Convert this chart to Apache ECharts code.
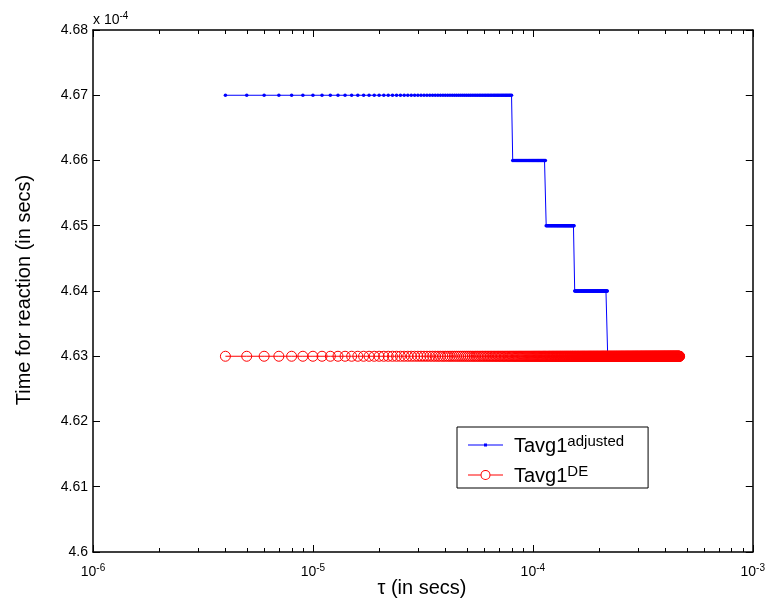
<!DOCTYPE html>
<html>
<head>
<meta charset="utf-8">
<title>Tavg1 vs tau</title>
<script src="https://cdn.jsdelivr.net/npm/echarts@6/dist/echarts.min.js"></script>
<style>
  html, body { margin: 0; padding: 0; background: #fff; }
  #chart { width: 768px; height: 601px; }
</style>
</head>
<body>
<div id="chart"></div>
<script>
// Sample grid of tau values, in microseconds
const tauMicro = [
  4,5,6,7,8,9,10,11,12,13,14,15,16,17,18,19,20,21,22,23,
  24,25,26,27,28,29,30,31,32,33,34,35,36,37,38,39,40,41,42,43,
  44,45,46,47,48,49,50,51,52,53,54,55,56,57,58,59,60,61,62,63,
  64,65,66,67,68,69,70,71,72,73,74,75,76,77,78,79,80,81,82,83,
  84,85,86,87,88,89,90,91,92,93,94,95,96,97,98,99,100,101,102,103,
  104,105,106,107,108,109,110,111,112,113,114,115,116,117,118,119,120,121,122,123,
  124,125,126,127,128,129,130,131,132,133,134,135,136,137,138,139,140,141,142,143,
  144,145,146,147,148,149,150,151,152,153,154,155,156,157,158,159,160,161,162,163,
  164,165,166,167,168,169,170,171,172,173,174,175,176,177,178,179,180,181,182,183,
  184,185,186,187,188,189,190,191,192,193,194,195,196,197,198,199,200,201,202,203,
  204,205,206,207,208,209,210,211,212,213,214,215,216,217,218,219,220,221,222,223,
  224,225,226,227,228,229,230,231,232,233,234,235,236,237,238,239,240,241,242,243,
  244,245,246,247,248,249,250,251,252,253,254,255,256,257,258,259,260,261,262,263,
  264,265,266,267,268,269,270,271,272,273,274,275,276,277,278,279,280,281,282,283,
  284,285,286,287,288,289,290,291,292,293,294,295,296,297,298,299,300,301,302,303,
  304,305,306,307,308,309,310,311,312,313,314,315,316,317,318,319,320,321,322,323,
  324,325,326,327,328,329,330,331,332,333,334,335,336,337,338,339,340,341,342,343,
  344,345,346,347,348,349,350,351,352,353,354,355,356,357,358,359,360,361,362,363,
  364,365,366,367,368,369,370,371,372,373,374,375,376,377,378,379,380,381,382,383,
  384,385,386,387,388,389,390,391,392,393,394,395,396,397,398,399,400,401,402,403,
  404,405,406,407,408,409,410,411,412,413,414,415,416,417,418,419,420,421,422,423,
  424,425,426,427,428,429,430,431,432,433,434,435,436,437,438,439,440,441,442,443,
  444,445,446,447,448,449,450,451,452,453,454,455,456,457,458,459,460,461,462,463,
  464,465
];

// Tavg1 adjusted: step levels (x 1e-4 s) and the tau (us) where each level begins
const adjustedStepStart = [4, 81, 115, 155, 219];
const adjustedLevels = [4.67, 4.66, 4.65, 4.64, 4.63];

// Tavg1 DE: constant level (x 1e-4 s)
const deLevel = 4.63;

// Axis settings
const yTicks = [4.6, 4.61, 4.62, 4.63, 4.64, 4.65, 4.66, 4.67, 4.68];
const xDecades = [1e-6, 1e-5, 1e-4];
const minorMultiples = [2, 3, 4, 5, 6, 7, 8, 9];

// Legend text: base name and superscript
const seriesBase = ['Tavg1', 'Tavg1'];
const seriesSup = ['adjusted', 'DE'];
const seriesNames = ['Tavg1^adjusted', 'Tavg1^DE'];

const FONT = '"Liberation Sans", Arial, Helvetica, sans-serif';
const BLUE = '#0000ff', RED = '#ff0000';
const yMin = yTicks[0], yMax = yTicks[yTicks.length - 1];
const xMin = 1e-6, xMax = 1e-3;

// Legend glyphs: a line with a small dot, and a line through an open ring
const dotLineIcon = 'path://M0,4.5L35,4.5L35,5.5L0,5.5Z M16,3.5L19,3.5L19,6.5L16,6.5Z';
const ringLineIcon = 'path://M0,4.5L12.6,4.5L12.6,5.5L0,5.5Z M22.4,4.5L35,4.5L35,5.5L22.4,5.5Z '
  + 'M17.5,0A5,5 0 1 1 17.5,10A5,5 0 1 1 17.5,0Z '
  + 'M17.5,1A4,4 0 1 0 17.5,9A4,4 0 1 0 17.5,1Z';

function adjustedAt(t) {
  let level = adjustedLevels[0];
  for (let i = 0; i < adjustedStepStart.length; i++) {
    if (t >= adjustedStepStart[i]) level = adjustedLevels[i];
  }
  return level;
}

const adjustedData = tauMicro.map(t => [t * 1e-6, adjustedAt(t)]);
const deData = tauMicro.map(t => [t * 1e-6, deLevel]);

const minorTicks = [];
xDecades.forEach(d => minorMultiples.forEach(m => minorTicks.push([d * m, yMin])));

const chart = echarts.init(document.getElementById('chart'), null, { renderer: 'canvas' });

const axisLine = { show: true, lineStyle: { color: '#000', width: 1.5 } };
const majorTick = { show: true, inside: true, length: 7, lineStyle: { color: '#000' } };

const option = {
  animation: false,
  backgroundColor: '#fff',
  textStyle: { fontFamily: FONT },
  grid: { left: 93, right: 13, top: 30, bottom: 49, containLabel: false },
  xAxis: [
    {
      type: 'log', logBase: 10, min: xMin, max: xMax, position: 'bottom',
      axisLine: axisLine, axisTick: majorTick,
      splitLine: { show: false },
      axisLabel: {
        margin: 11,
        formatter: v => '{b|10}{s|' + Math.round(Math.log10(v)) + '}',
        rich: {
          b: { fontFamily: FONT, fontSize: 14, color: '#000', lineHeight: 16, padding: [7, 0, 0, 0], verticalAlign: 'bottom' },
          s: { fontFamily: FONT, fontSize: 10, color: '#000', lineHeight: 12, verticalAlign: 'top' }
        }
      }
    },
    {
      type: 'log', logBase: 10, min: xMin, max: xMax, position: 'top',
      axisLine: axisLine, axisTick: majorTick,
      axisLabel: { show: false },
      splitLine: { show: false }
    }
  ],
  yAxis: [
    {
      type: 'value', min: yMin, max: yMax, interval: 0.01, position: 'left',
      axisLine: axisLine, axisTick: majorTick,
      splitLine: { show: false },
      axisLabel: {
        margin: 5, color: '#000', fontSize: 14, fontFamily: FONT,
        formatter: v => String(parseFloat(v.toFixed(2)))
      }
    },
    {
      type: 'value', min: yMin, max: yMax, interval: 0.01, position: 'right',
      axisLine: axisLine, axisTick: majorTick,
      axisLabel: { show: false },
      splitLine: { show: false }
    }
  ],
  legend: {
    data: [
      { name: seriesNames[0], icon: dotLineIcon, itemStyle: { color: BLUE, borderWidth: 0, borderColor: 'transparent' } },
      { name: seriesNames[1], icon: ringLineIcon, itemStyle: { color: RED, borderWidth: 0, borderColor: 'transparent' } }
    ],
    orient: 'vertical',
    left: 457, top: 427,
    padding: [3, 24, 2, 11],
    itemGap: 4,
    itemWidth: 35, itemHeight: 10,
    symbolKeepAspect: true,
    backgroundColor: '#fff',
    borderColor: '#000', borderWidth: 1,
    borderRadius: 0,
    selectedMode: false,
    formatter: name => {
      const i = seriesNames.indexOf(name);
      return '{b|' + seriesBase[i] + '}{s|' + seriesSup[i] + '}';
    },
    textStyle: {
      rich: {
        b: { fontFamily: FONT, fontSize: 20, color: '#000', lineHeight: 22, padding: [6, 0, 0, 6], verticalAlign: 'bottom' },
        s: { fontFamily: FONT, fontSize: 15, color: '#000', lineHeight: 16, verticalAlign: 'top' }
      }
    }
  },
  graphic: [
    {
      type: 'text', left: 93, top: 10, silent: true,
      style: {
        text: '{b|x 10}{s|-4}',
        rich: {
          b: { fontFamily: FONT, fontSize: 14, fill: '#000', lineHeight: 16, padding: [3, 0, 0, 0], verticalAlign: 'bottom' },
          s: { fontFamily: FONT, fontSize: 10, fill: '#000', lineHeight: 12, verticalAlign: 'top' }
        }
      }
    },
    {
      type: 'text', x: 24, y: 290, rotation: Math.PI / 2, silent: true,
      style: {
        text: 'Time for reaction (in secs)', font: '20px ' + FONT, fill: '#000',
        align: 'center', verticalAlign: 'middle'
      }
    },
    {
      type: 'text', x: 422, y: 588, silent: true,
      style: {
        text: 'τ (in secs)', font: '20px ' + FONT, fill: '#000',
        align: 'center', verticalAlign: 'middle'
      }
    }
  ],
  series: [
    {
      name: seriesNames[0], type: 'line', data: adjustedData,
      xAxisIndex: 0, yAxisIndex: 0,
      symbol: 'circle', symbolSize: 3.5, showSymbol: true, showAllSymbol: true,
      lineStyle: { color: BLUE, width: 1 },
      itemStyle: { color: BLUE },
      emphasis: { disabled: true }, z: 2
    },
    {
      name: seriesNames[1], type: 'line', data: deData,
      xAxisIndex: 0, yAxisIndex: 0,
      symbol: 'circle', symbolSize: 10, showSymbol: true, showAllSymbol: true,
      lineStyle: { color: RED, width: 1 },
      itemStyle: { color: 'rgba(255,255,255,0)', borderColor: RED, borderWidth: 1 },
      emphasis: { disabled: true }, z: 3
    },
    {
      name: 'minor ticks', type: 'custom', data: minorTicks,
      xAxisIndex: 0, yAxisIndex: 0, silent: true, clip: false, z: 5,
      renderItem: (params, api) => {
        const x = Math.round(api.coord([api.value(0), yMin])[0]) + 0.5;
        const cs = params.coordSys;
        const bottom = cs.y + cs.height, top = cs.y;
        return {
          type: 'group',
          children: [
            { type: 'line', shape: { x1: x, y1: bottom, x2: x, y2: bottom - 4 }, style: { stroke: '#000', lineWidth: 1 } },
            { type: 'line', shape: { x1: x, y1: top, x2: x, y2: top + 4 }, style: { stroke: '#000', lineWidth: 1 } }
          ]
        };
      }
    }
  ]
};

chart.setOption(option);
</script>
</body>
</html>
